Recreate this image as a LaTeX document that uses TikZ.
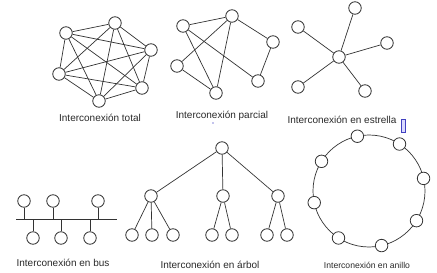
\documentclass[tikz,border=0pt]{standalone}
\usepackage{fontspec}
\setmainfont{Liberation Sans}
\usetikzlibrary{calc}
\definecolor{ln}{HTML}{333333}
\definecolor{tx}{HTML}{2A2A2A}
\begin{document}
\begin{tikzpicture}[x=1pt,y=-1pt,
  nd/.style={circle,draw=ln,fill=white,line width=0.8pt,minimum size=12.5pt,inner sep=0pt},
  lbl/.style={text=tx,font=\fontsize{10}{12}\selectfont,inner sep=0pt},
  ed/.style={draw=ln,line width=0.7pt}]
\useasboundingbox (0,0) rectangle (437,273);
\fill[white] (0,0) rectangle (437,273);
% ---------- total ----------
\node[nd] (t1) at (66,33) {};
\node[nd] (t2) at (115,23) {};
\node[nd] (t3) at (151,50) {};
\node[nd] (t4) at (142,88) {};
\node[nd] (t5) at (99,101) {};
\node[nd] (t6) at (59,74) {};
\foreach \a/\b in {t1/t2,t1/t3,t1/t4,t1/t5,t1/t6,t2/t3,t2/t4,t2/t5,t2/t6,t3/t4,t3/t5,t3/t6,t4/t5,t4/t6,t5/t6}
  \draw[ed] (\a) -- (\b);
\node[lbl] (lt) at (100,118) {Interconexión total};
% ---------- partial ----------
\node[nd] (pA) at (183,26) {};
\node[nd] (pB) at (232,16) {};
\node[nd] (pC) at (273,42) {};
\node[nd] (pD) at (177,66) {};
\node[nd] (pE) at (258,81) {};
\node[nd] (pF) at (216,93) {};
\foreach \a/\b in {pA/pB,pB/pC,pC/pE,pA/pE,pA/pF,pB/pF,pB/pD,pD/pF}
  \draw[ed] (\a) -- (\b);
\node[lbl] (lp) at (222,116) {Interconexión parcial};
\fill[blue!70!black] (213,123) circle (0.6);
% ---------- star ----------
\node[nd] (s0) at (339,57) {};
\node[nd] (s1) at (355,8) {};
\node[nd] (s2) at (298,27) {};
\node[nd] (s3) at (387,43) {};
\node[nd] (s4) at (298,87) {};
\node[nd] (s5) at (365,91) {};
\foreach \b in {s1,s2,s3,s4,s5}
  \draw[ed] (s0) -- (\b);
\node[lbl] (ls) at (342,120) {Interconexión en estrella};
\draw[draw=blue!50!gray,fill=blue!15,line width=0.5pt] (401,119) rectangle (405,132);
% ---------- bus ----------
\coordinate (bl) at (16,219);
\coordinate (br) at (117,219);
\draw[ed] (bl) -- (br);
\node[nd] (bu1) at (24,201) {};
\node[nd] (bu2) at (53,201) {};
\node[nd] (bu3) at (98,201) {};
\node[nd] (bd1) at (33,238) {};
\node[nd] (bd2) at (61,238) {};
\node[nd] (bd3) at (90,238) {};
\foreach \n in {bu1,bu2,bu3,bd1,bd2,bd3}
  \draw[ed] (\n) -- (\n |- bl);
\node[lbl] (lb) at (63,263) {Interconexión en bus};
% ---------- tree ----------
\node[nd] (r) at (222,148) {};
\node[nd] (m1) at (151,196) {};
\node[nd] (m2) at (223,196) {};
\node[nd] (m3) at (278,196) {};
\node[nd] (l1) at (132,235) {};
\node[nd] (l2) at (152,235) {};
\node[nd] (l3) at (173,235) {};
\node[nd] (l4) at (212,235) {};
\node[nd] (l5) at (232,235) {};
\node[nd] (l6) at (267,235) {};
\node[nd] (l7) at (287,235) {};
\foreach \a/\b in {r/m1,r/m2,r/m3,m1/l1,m1/l2,m1/l3,m2/l4,m2/l5,m3/l6,m3/l7}
  \draw[ed] (\a) -- (\b);
\node[lbl] (la) at (210,265) {Interconexión en árbol};
% ---------- ring ----------
\coordinate (rc) at (369,191);
\draw[ed] (rc) circle (56);
\foreach \ang [count=\i] in {102,57,13,-32,-77,-123,-168,148}
  \node[nd] (rn\i) at ($(rc)+(-\ang:56)$) {};
\node[lbl,font=\fontsize{8.6}{10}\selectfont] (lr) at (367,265) {Interconexión en anillo};
\end{tikzpicture}
\end{document}
